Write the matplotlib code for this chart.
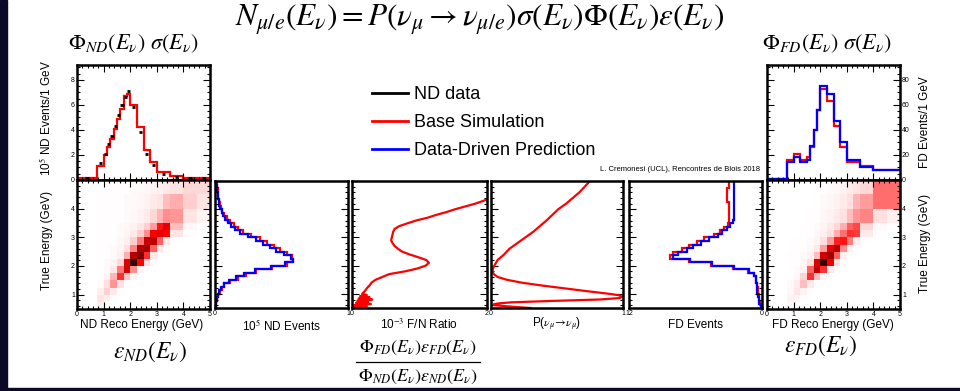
import numpy as np
import matplotlib.pyplot as plt
from matplotlib.colors import LinearSegmentedColormap
from matplotlib.lines import Line2D
from matplotlib.patches import Rectangle
from matplotlib.ticker import MultipleLocator

plt.rcParams['font.family'] = ['Liberation Sans', 'DejaVu Sans']
plt.rcParams['mathtext.fontset'] = 'stix'

W, H = 960, 391

# ND reco energy spectrum, 10^5 events / 1 GeV
nd_edges = [0, 0.75, 1.0, 1.125, 1.25, 1.375, 1.5, 1.625, 1.75, 1.875, 2.0,
            2.25, 2.5, 2.75, 3.0, 3.5, 4.0, 4.5, 5.0]
nd_sim = [0.15, 1.1, 2.0, 2.6, 3.3, 4.1, 4.9, 5.7, 6.7, 6.9, 6.0,
          4.2, 2.4, 1.4, 0.6, 0.3, 0.15, 0.15]
nd_data = [0.15, 1.35, 2.1, 2.9, 3.5, 4.3, 5.2, 6.0, 6.6, 7.1, 5.8,
           3.8, 2.1, 1.2, 0.5, 0.25, 0.12, 0.12]

# FD reco energy spectrum, events / 1 GeV
fd_edges = [0, 0.75, 1.0, 1.25, 1.5, 1.625, 1.75, 1.875, 2.0, 2.25, 2.5,
            2.75, 3.0, 3.5, 4.0, 5.0]
fd_sim = [1, 16, 21, 16, 18, 26, 40, 56, 73, 63, 43, 26, 14, 11, 8]
fd_pred = [1, 14, 18, 14, 16, 27, 40, 56, 75, 69, 47, 30, 16, 10, 8]

# true energy bins for the projections
true_edges = np.arange(0.5, 5.01, 0.125)
nd_true_sim = [0.005, 0.008, 0.015, 0.025, 0.035, 0.05, 0.07, 0.11, 0.17,
               0.23, 0.31, 0.43, 0.54, 0.59, 0.58, 0.54, 0.49, 0.44, 0.39,
               0.34, 0.27, 0.21, 0.17, 0.14, 0.11, 0.09, 0.07, 0.055, 0.045,
               0.035, 0.03, 0.025, 0.022, 0.02, 0.015, 0.012]
nd_true_pred = [0.005, 0.008, 0.014, 0.023, 0.033, 0.048, 0.068, 0.105, 0.16,
                0.22, 0.30, 0.42, 0.53, 0.59, 0.57, 0.52, 0.46, 0.41, 0.36,
                0.31, 0.25, 0.19, 0.15, 0.12, 0.095, 0.075, 0.06, 0.05, 0.04,
                0.032, 0.027, 0.023, 0.02, 0.018, 0.014, 0.011]
fd_true_sim = [0.05, 0.2, 0.25, 0.3, 0.35, 0.4, 0.45, 0.5, 0.55, 0.75, 1.3,
               2.6, 4.6, 6.6, 8.3, 8.0, 7.2, 6.6, 5.9, 5.2, 4.3, 3.8, 3.4,
               3.1, 2.95, 2.95, 2.95, 2.95, 2.95, 2.95, 3.15, 3.15, 3.15,
               3.15, 2.95, 2.95]
fd_true_pred = [0.05, 0.25, 0.3, 0.35, 0.42, 0.45, 0.48, 0.5, 0.55, 0.7, 1.2,
                2.5, 4.5, 6.5, 8.0, 7.6, 6.8, 6.2, 5.5, 4.8, 4.0, 3.6, 3.2,
                2.9, 2.6, 2.55, 2.5, 2.5, 2.5, 2.5, 2.55, 2.55, 2.55, 2.55,
                2.55, 2.55]

# far/near ratio (10^-3) vs true energy
ratio_e = [0.52, 0.56, 0.6, 0.64, 0.68, 0.72, 0.76, 0.8, 0.84, 0.88, 0.92,
           0.96, 1.0, 1.1, 1.2, 1.3, 1.4, 1.5, 1.6, 1.7, 1.8, 1.9, 2.0, 2.1,
           2.2, 2.3, 2.4, 2.5, 2.6, 2.7, 2.8, 2.9, 3.0, 3.1, 3.2, 3.3, 3.4,
           3.5, 3.6, 3.7, 3.8, 3.9, 4.0, 4.1, 4.2, 4.3, 4.4]
ratio_val = [0.0, 0.22, 0.03, 0.28, 0.06, 0.24, 0.08, 0.3, 0.1, 0.26, 0.12,
             0.22, 0.15, 0.19, 0.22, 0.26, 0.29, 0.35, 0.45, 0.55, 0.79, 0.97,
             1.09, 1.14, 1.1, 0.98, 0.85, 0.74, 0.68, 0.63, 0.6, 0.58, 0.59,
             0.6, 0.61, 0.63, 0.7, 0.82, 0.95, 1.12, 1.25, 1.4, 1.53, 1.68,
             1.83, 1.95, 2.05]

# numu survival probability vs true energy
prob_e = [0.5, 0.55, 0.6, 0.63, 0.66, 0.7, 0.75, 0.8, 0.85, 0.9, 0.95, 1.0,
          1.1, 1.2, 1.3, 1.4, 1.5, 1.6, 1.7, 1.8, 1.9, 2.0, 2.2, 2.4, 2.6,
          2.8, 3.0, 3.2, 3.4, 3.6, 3.8, 4.0, 4.2, 4.4, 4.6, 4.8, 4.95]
prob = [0.3, 0.15, 0.02, 0.02, 0.05, 0.15, 0.46, 0.82, 0.97, 0.995, 0.97,
        0.9, 0.72, 0.55, 0.38, 0.23, 0.12, 0.05, 0.02, 0.012, 0.015, 0.025,
        0.05, 0.1, 0.14, 0.2, 0.26, 0.32, 0.37, 0.42, 0.465, 0.51, 0.57,
        0.62, 0.67, 0.71, 0.74]

# reco (columns) vs true (rows) energy smearing
reco_edges = [0, 0.75, 1.0, 1.25, 1.5, 1.75, 2.0, 2.25, 2.5, 2.75, 3.0,
              3.25, 3.5, 4.0, 4.5, 5.0]
true2d_edges = [0.5, 0.75, 1.0, 1.25, 1.5, 1.75, 2.0, 2.25, 2.5, 2.75, 3.0,
                3.25, 3.5, 4.0, 4.5, 5.0]
nd_smear = [
    [0, 6, 2, 0, 0, 0, 0, 0, 0, 0, 0, 0, 0, 0, 0],
    [0, 10, 6, 1, 0, 0, 0, 0, 0, 0, 0, 0, 0, 0, 0],
    [0, 6, 16, 8, 1, 0, 0, 0, 0, 0, 0, 0, 0, 0, 0],
    [0, 2, 12, 30, 12, 1, 0, 0, 0, 0, 0, 0, 0, 0, 0],
    [0, 1, 5, 22, 48, 18, 3, 0, 0, 0, 0, 0, 0, 0, 0],
    [0, 1, 2, 8, 36, 70, 32, 5, 1, 0, 0, 0, 0, 0, 0],
    [0, 1, 2, 4, 14, 65, 100, 55, 12, 2, 0, 0, 0, 0, 0],
    [0, 1, 1, 2, 6, 24, 78, 90, 48, 8, 1, 0, 0, 0, 0],
    [0, 1, 1, 2, 4, 12, 34, 78, 85, 40, 8, 1, 0, 0, 0],
    [0, 1, 1, 1, 3, 6, 16, 36, 72, 75, 40, 8, 1, 0, 0],
    [0, 1, 1, 1, 2, 4, 8, 16, 32, 58, 62, 55, 10, 1, 0],
    [0, 1, 1, 1, 2, 3, 5, 9, 16, 28, 52, 62, 20, 3, 1],
    [0, 1, 1, 1, 1, 2, 3, 5, 8, 14, 22, 32, 30, 10, 4],
    [0, 1, 1, 1, 1, 2, 2, 3, 5, 8, 10, 20, 24, 16, 10],
    [0, 1, 1, 1, 1, 1, 2, 2, 3, 5, 6, 8, 10, 14, 14],
]
fd_smear = [
    [0, 3, 1, 0, 0, 0, 0, 0, 0, 0, 0, 0, 0, 0, 0],
    [0, 5, 4, 1, 0, 0, 0, 0, 0, 0, 0, 0, 0, 0, 0],
    [0, 3, 9, 5, 1, 0, 0, 0, 0, 0, 0, 0, 0, 0, 0],
    [0, 2, 7, 20, 8, 1, 0, 0, 0, 0, 0, 0, 0, 0, 0],
    [0, 1, 3, 15, 48, 20, 3, 0, 0, 0, 0, 0, 0, 0, 0],
    [0, 1, 2, 5, 40, 75, 48, 8, 1, 0, 0, 0, 0, 0, 0],
    [0, 1, 1, 3, 12, 66, 100, 60, 10, 1, 0, 0, 0, 0, 0],
    [0, 1, 1, 2, 5, 20, 70, 85, 40, 6, 1, 0, 0, 0, 0],
    [0, 0, 1, 1, 3, 8, 28, 62, 76, 32, 5, 1, 0, 0, 0],
    [0, 0, 1, 1, 2, 4, 12, 28, 50, 52, 35, 6, 1, 0, 0],
    [0, 0, 0, 1, 1, 3, 6, 12, 24, 38, 48, 46, 8, 1, 0],
    [0, 0, 0, 1, 1, 2, 4, 8, 14, 24, 40, 44, 14, 2, 1],
    [0, 0, 0, 0, 1, 1, 3, 5, 8, 12, 20, 30, 34, 12, 6],
    [0, 0, 0, 0, 0, 1, 2, 3, 5, 8, 12, 22, 28, 38, 38],
    [0, 0, 0, 0, 0, 1, 1, 2, 3, 5, 8, 10, 14, 38, 38],
]

RED = '#ff0000'
BLUE = '#0000ff'
LW = 1.6

cmap = LinearSegmentedColormap.from_list(
    'reds', [(0, '#ffffff'), (0.12, '#ffdede'), (0.35, '#ff8080'),
             (0.55, '#ff0000'), (0.85, '#a00000'), (1.0, '#3a0000')])

fig = plt.figure(figsize=(W / 100, H / 100), dpi=100)

# dark slide frame
fig.patches.append(Rectangle((0, 0), 7 / W, 1, transform=fig.transFigure,
                             color='#0a0a28', zorder=0))
fig.patches.append(Rectangle((0, 0), 1, 3 / H, transform=fig.transFigure,
                             color='#0a0a28', zorder=0))


def box(x0, y0, x1, y1):
    return fig.add_axes([x0 / W, 1 - y1 / H, (x1 - x0) / W, (y1 - y0) / H])


def style(ax):
    for s in ax.spines.values():
        s.set_linewidth(1.8)
    ax.tick_params(which='both', direction='in', top=True, right=True,
                   labelsize=5, pad=1.5, width=0.8)
    ax.tick_params(which='major', length=5)
    ax.tick_params(which='minor', length=2.5)


def side(ax, lo, hi):
    style(ax)
    ax.set_ylim(0.5, 5)
    ax.set_xlim(lo, hi)
    ax.yaxis.set_major_locator(MultipleLocator(1))
    ax.yaxis.set_minor_locator(MultipleLocator(0.2))
    ax.set_yticklabels([])
    ax.set_xticks([lo, hi])
    ax.tick_params(axis='x', which='both', length=0, top=False)


# top-left: ND reco spectrum
ax = box(77, 65, 210, 180)
style(ax)
ax.stairs(nd_sim, nd_edges, color=RED, lw=LW, baseline=None)
nd_c = 0.5 * (np.array(nd_edges[1:]) + np.array(nd_edges[:-1]))
nd_w = 0.5 * np.minimum(np.diff(nd_edges), 0.125)
ax.hlines(nd_data, nd_c - nd_w, nd_c + nd_w, color='black', lw=2, zorder=3)
ax.set_xlim(0, 5)
ax.set_ylim(0, 9.2)
ax.yaxis.set_major_locator(MultipleLocator(2))
ax.yaxis.set_minor_locator(MultipleLocator(0.5))
ax.xaxis.set_major_locator(MultipleLocator(1))
ax.xaxis.set_minor_locator(MultipleLocator(0.2))
ax.set_xticklabels([])

# top-right: FD reco spectrum
ax = box(767, 65, 900, 180)
style(ax)
ax.stairs(fd_sim, fd_edges, color=RED, lw=LW, baseline=None)
ax.stairs(fd_pred, fd_edges, color=BLUE, lw=LW, baseline=None)
ax.set_xlim(0, 5)
ax.set_ylim(0, 92)
ax.yaxis.set_major_locator(MultipleLocator(20))
ax.yaxis.set_minor_locator(MultipleLocator(5))
ax.xaxis.set_major_locator(MultipleLocator(1))
ax.xaxis.set_minor_locator(MultipleLocator(0.2))
ax.set_xticklabels([])
ax.tick_params(axis='y', labelleft=False, labelright=True)

# smearing matrices
for (x0, x1), grid, right in [((77, 210), nd_smear, False),
                              ((767, 900), fd_smear, True)]:
    ax = box(x0, 180, x1, 309)
    style(ax)
    ax.pcolormesh(reco_edges, true2d_edges, np.array(grid), cmap=cmap,
                  vmin=0, vmax=100, shading='flat')
    ax.set_xlim(0, 5)
    ax.set_ylim(0.5, 5)
    ax.xaxis.set_major_locator(MultipleLocator(1))
    ax.xaxis.set_minor_locator(MultipleLocator(0.2))
    ax.yaxis.set_major_locator(MultipleLocator(1))
    ax.yaxis.set_minor_locator(MultipleLocator(0.2))
    ax.set_yticks([1, 2, 3, 4])
    if right:
        ax.tick_params(axis='y', labelleft=False, labelright=True)

# ND true-energy projection
ax = box(215, 181, 348, 308)
side(ax, 0, 1)
ax.stairs(nd_true_sim, true_edges, orientation='horizontal', color=RED,
          lw=LW, baseline=None)
ax.stairs(nd_true_pred, true_edges, orientation='horizontal', color=BLUE,
          lw=LW, baseline=None)

# F/N ratio
ax = box(352, 181, 487, 308)
side(ax, 0, 2)
ax.plot(ratio_val, ratio_e, color=RED, lw=LW)

# survival probability
ax = box(491, 181, 623, 308)
side(ax, 0, 1)
ax.plot(prob, prob_e, color=RED, lw=LW)

# FD true-energy projection (reversed axis)
ax = box(629, 181, 762, 308)
side(ax, 12, 0)
ax.stairs(fd_true_sim, true_edges, orientation='horizontal', color=RED,
          lw=LW, baseline=None)
ax.stairs(fd_true_pred, true_edges, orientation='horizontal', color=BLUE,
          lw=LW, baseline=None)


def txt(x, y, s, **kw):
    fig.text(x / W, 1 - y / H, s, **kw)


# axis titles
lab = dict(fontsize=8.5, ha='center', va='center')
txt(142, 325, 'ND Reco Energy (GeV)', **lab)
txt(281, 325, r'10$^{5}$ ND Events', **lab)
txt(419, 325, r'10$^{-3}$ F/N Ratio', **lab)
txt(557, 323, r'P($\nu_{\mu}\!\rightarrow\!\nu_{\mu}$)', **lab)
txt(695, 325, 'FD Events', **lab)
txt(833, 325, 'FD Reco Energy (GeV)', **lab)
txt(46, 118, r'10$^{5}$ ND Events/1 GeV', rotation=90, **lab)
txt(47, 240, 'True Energy (GeV)', rotation=90, **lab)
txt(925, 122, 'FD Events/1 GeV', rotation=90, **lab)
txt(925, 243, 'True Energy (GeV)', rotation=90, **lab)

# formulas
txt(480, 20, r'$N_{\mu/e}(E_\nu) = P(\nu_\mu \rightarrow \nu_{\mu/e})'
             r'\sigma(E_\nu)\Phi(E_\nu)\epsilon(E_\nu)$',
    fontsize=22.5, ha='center', va='center')
txt(68, 44, r'$\Phi_{ND}(E_\nu)\ \sigma(E_\nu)$', fontsize=16, va='center')
txt(762, 44, r'$\Phi_{FD}(E_\nu)\ \sigma(E_\nu)$', fontsize=16, va='center')
txt(150, 352, r'$\epsilon_{ND}(E_\nu)$', fontsize=17, ha='center',
    va='center')
txt(821, 346, r'$\epsilon_{FD}(E_\nu)$', fontsize=17, ha='center',
    va='center')

# F/N fraction written as numerator, bar and denominator
txt(418, 348, r'$\Phi_{FD}(E_\nu)\epsilon_{FD}(E_\nu)$', fontsize=13,
    ha='center', va='center')
txt(418, 377, r'$\Phi_{ND}(E_\nu)\epsilon_{ND}(E_\nu)$', fontsize=13,
    ha='center', va='center')
fig.add_artist(Line2D([356 / W, 480 / W], [1 - 362 / H, 1 - 362 / H],
                      color='black', lw=0.9))

txt(760, 170, 'L. Cremonesi (UCL), Rencontres de Blois 2018', fontsize=5.5,
    ha='right', va='center')

handles = [Line2D([], [], color='black', lw=2),
           Line2D([], [], color=RED, lw=2),
           Line2D([], [], color=BLUE, lw=2)]
fig.legend(handles, ['ND data', 'Base Simulation', 'Data-Driven Prediction'],
           loc='upper left', bbox_to_anchor=(372 / W, 1 - 86 / H),
           frameon=False, fontsize=13, handlelength=2.0, handletextpad=0.3,
           labelspacing=0.62, borderaxespad=0, borderpad=0)

fig.savefig('out.png', dpi=100)
